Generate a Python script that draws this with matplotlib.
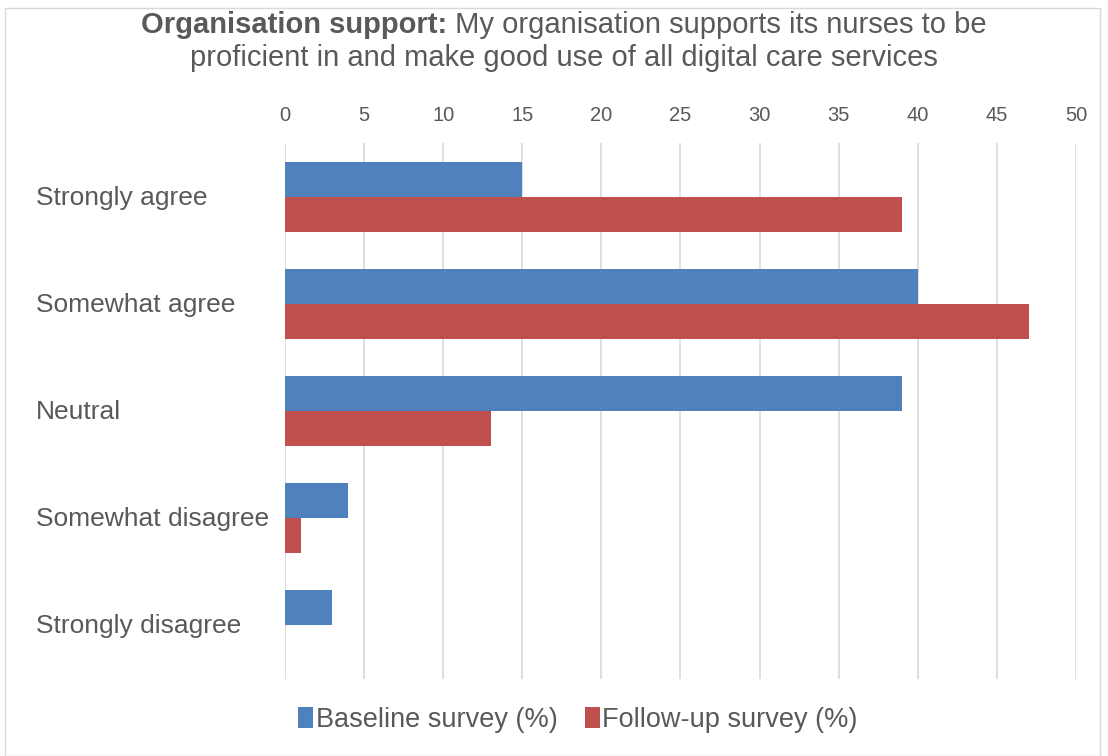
import numpy as np
import matplotlib
matplotlib.use("Agg")
import matplotlib.pyplot as plt
from matplotlib.patches import Rectangle

# Datos del gráfico
categories = ["Strongly agree", "Somewhat agree", "Neutral",
              "Somewhat disagree", "Strongly disagree"]
baseline = [15, 40, 39, 4, 3]
follow_up = [39, 47, 13, 1, 0]
series_names = ["Baseline survey (%)", "Follow-up survey (%)"]
x_ticks = [0, 5, 10, 15, 20, 25, 30, 35, 40, 45, 50]

plt.rcParams['font.family'] = ['Liberation Sans', 'DejaVu Sans']
text_color = '#595959'
blue = '#4F81BD'
red = '#C0504D'

fig = plt.figure(figsize=(11.08, 7.56), dpi=100)
ax = fig.add_axes([0.2572, 0.1025, 0.9711 - 0.2572, 0.8102 - 0.1025])

y = np.arange(len(categories))
h = 0.33
ax.barh(y - h / 2, baseline, height=h, color=blue, label=series_names[0], zorder=3)
ax.barh(y + h / 2, follow_up, height=h, color=red, label=series_names[1], zorder=3)

ax.set_xlim(0, 50)
ax.set_ylim(len(categories) - 0.5, -0.5)
ax.set_xticks(x_ticks)
ax.xaxis.tick_top()
ax.tick_params(axis='x', length=0, pad=13, labelsize=14.5, labelcolor=text_color)
ax.set_yticks([])
ax.grid(axis='x', color='#d9d9d9', linewidth=1.2, zorder=0)
for s in ax.spines.values():
    s.set_visible(False)

# Etiquetas de categorías alineadas a la izquierda
for i, c in enumerate(categories):
    fig.text(36 / 1108, 1 - (198 + 107 * i) / 756, c, ha='left', va='center',
             fontsize=19, color=text_color)

# Título con parte en negrita
renderer = fig.canvas.get_renderer()
t_bold = "Organisation support:"
t_rest = " My organisation supports its nurses to be"
tb = fig.text(0, 0, t_bold, fontsize=21, fontweight='bold', color=text_color)
tr = fig.text(0, 0, t_rest, fontsize=21, color=text_color)
wb = tb.get_window_extent(renderer).width
wr = tr.get_window_extent(renderer).width
x0 = 564 - (wb + wr) / 2
ty = 1 - 25 / 756
tb.set_position((x0 / 1108, ty))
tb.set_va('center')
tr.set_position(((x0 + wb) / 1108, ty))
tr.set_va('center')
fig.text(564 / 1108, 1 - 58 / 756,
         "proficient in and make good use of all digital care services",
         ha='center', va='center', fontsize=21, color=text_color)

fig.legend(loc='center', bbox_to_anchor=(578 / 1108, 1 - 720 / 756), ncol=2,
           frameon=False, fontsize=19.5, handlelength=0.55, handleheight=0.8,
           handletextpad=0.1, columnspacing=1.0, labelcolor=text_color)

# Borde del gráfico
fig.patches.append(Rectangle((5 / 1108, 0), 1095 / 1108, 1 - 8 / 756,
                             transform=fig.transFigure, fill=False,
                             edgecolor='#d9d9d9', linewidth=1))

fig.savefig("out.png", dpi=100)
